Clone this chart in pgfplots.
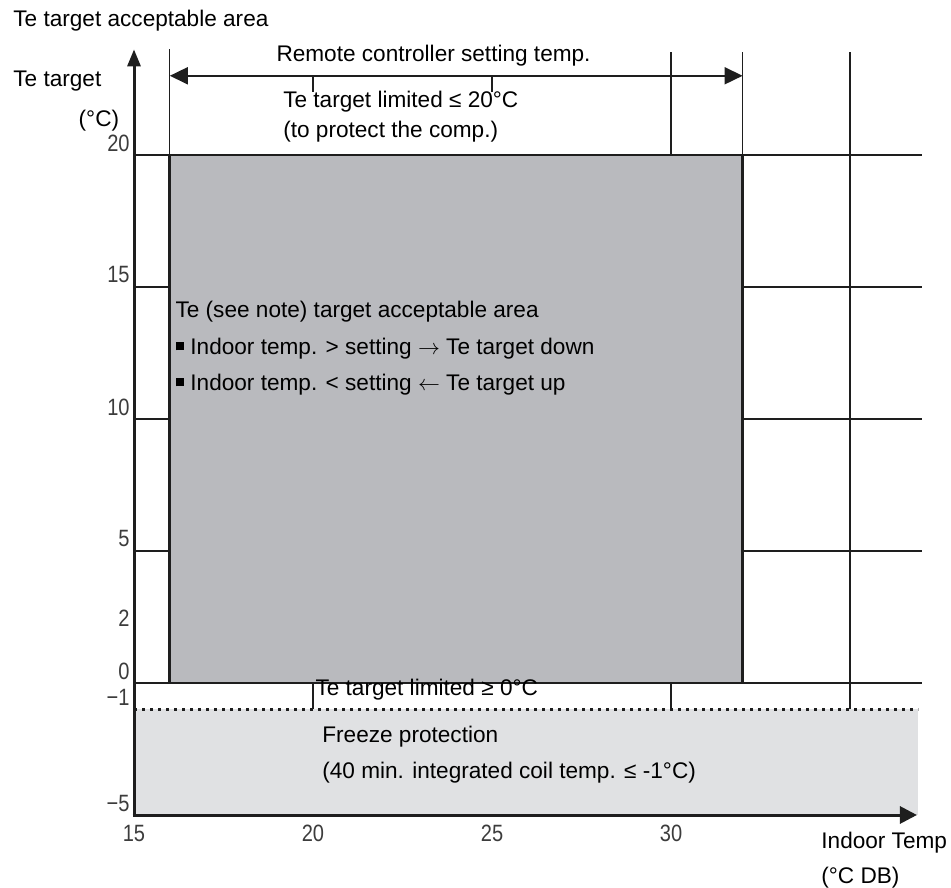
\documentclass[border=0pt]{standalone}
\usepackage{pgfplots}
\pgfplotsset{compat=1.18}
\usetikzlibrary{arrows.meta}
\usepackage{fontspec}
\setmainfont{Liberation Sans}
\newfontfamily\tickfont[FakeStretch=0.85]{Liberation Sans}
\definecolor{boxgray}{RGB}{185,186,190}
\definecolor{lightgray2}{RGB}{224,225,227}
\definecolor{tickgray}{RGB}{60,60,60}
\definecolor{linec}{RGB}{30,30,30}
\tikzset{lbl/.style={anchor=base west, inner sep=0pt, font=\fontsize{11.3}{13.5}\selectfont}}
\newcommand{\sq}{\rule[2pt]{4.3pt}{4.3pt}}
\begin{document}
\begin{tikzpicture}
\begin{axis}[
  x=17.9pt, y=13.2pt,
  xmin=15, xmax=37, ymin=-5, ymax=24,
  clip=false, axis line style={draw=none}, major tick length=0pt,
  xtick={15,20,25,30}, xticklabels={15,20,25,30},
  ytick={-5,-1,0,2,5,10,15,20}, yticklabels={−5,−1,0,2,5,10,15,20},
  xticklabel style={font=\tickfont\fontsize{11.8}{12}\selectfont, text=tickgray, anchor=base, inner sep=0pt, yshift=-13pt},
  yticklabel style={font=\tickfont\fontsize{11.8}{12}\selectfont, text=tickgray, anchor=east, inner sep=0pt, xshift=-2pt, yshift=6pt},
]
% freeze protection area
\addplot[fill=lightgray2, draw=none] coordinates {(15,-5) (36.9,-5) (36.9,-1) (15,-1)} -- cycle;
% horizontal grid lines
\addplot[linec, line width=0.65pt] coordinates {(15,5) (37,5)};
\addplot[linec, line width=0.65pt] coordinates {(15,10) (37,10)};
\addplot[linec, line width=0.65pt] coordinates {(15,15) (37,15)};
\addplot[linec, line width=0.65pt] coordinates {(15,20) (37,20)};
% vertical grid lines
\addplot[linec, line width=0.65pt] coordinates {(16,20) (16,24)};
\addplot[linec, line width=0.65pt] coordinates {(32,20) (32,23.9)};
\addplot[linec, line width=0.65pt] coordinates {(30,-1) (30,23.9)};
\addplot[linec, line width=0.65pt] coordinates {(35,-1) (35,23.9)};
\addplot[linec, line width=0.65pt] coordinates {(20,-1) (20,0)};
\addplot[linec, line width=0.65pt] coordinates {(20,22.4) (20,23)};
\addplot[linec, line width=0.65pt] coordinates {(25,22.4) (25,23)};
% acceptable area box
\addplot[fill=boxgray, draw=linec, line width=1.4pt] coordinates {(16,0) (32,0) (32,20) (16,20)} -- cycle;
% zero line
\addplot[linec, line width=1.3pt] coordinates {(15,0) (37,0)};
% -1 dotted line
\addplot[linec, line width=1.5pt, dash pattern=on 1.5pt off 2.5pt] coordinates {(15,-1) (36.9,-1)};
% double arrow
\addplot[linec, line width=0.9pt, {Triangle[length=9pt,width=8.5pt]}-{Triangle[length=9pt,width=8.5pt]}] coordinates {(16,23) (32,23)};
% axes
\addplot[linec, line width=1.5pt, -{Triangle[length=8.5pt,width=6.5pt]}] coordinates {(15,-5.05) (15,24)};
\addplot[linec, line width=1.5pt, -{Triangle[length=8.5pt,width=8.5pt]}] coordinates {(14.96,-5) (36.87,-5)};
\coordinate (O) at (axis cs:15,0);
% texts
\node[lbl] at (axis cs:11.62,24.85) {Te target acceptable area};
\node[lbl] at (axis cs:11.62,22.58) {Te target};
\node[lbl, anchor=base] at (axis cs:14.02,21.06) {(°C)};
\node[lbl] at (axis cs:18.97,23.55) {Remote controller setting temp.};
\node[lbl] at (axis cs:19.16,21.78) {Te target limited ≤ 20°C};
\node[lbl] at (axis cs:19.16,20.68) {(to protect the comp.)};
\node[lbl] at (axis cs:16.15,13.86) {Te (see note) target acceptable area};
\node[lbl] at (axis cs:16.15,12.45) {\sq{} Indoor temp. > setting $\rightarrow$ Te target down};
\node[lbl] at (axis cs:16.15,11.08) {\sq{} Indoor temp. < setting $\leftarrow$ Te target up};
\node[lbl] at (axis cs:20.06,-0.455) {Te target limited ≥ 0°C};
\node[lbl] at (axis cs:20.25,-2.235) {Freeze protection};
\node[lbl] at (axis cs:20.25,-3.6) {(40 min. integrated coil temp. ≤ -1°C)};
\node[lbl] at (axis cs:34.19,-6.25) {Indoor Temp};
\node[lbl] at (axis cs:34.19,-7.58) {(°C DB)};
\end{axis}
\pgfresetboundingbox
\path[use as bounding box] ([shift={(-67pt,-102pt)}]O) rectangle ([shift={(408.5pt,341.5pt)}]O);
\end{tikzpicture}
\end{document}
